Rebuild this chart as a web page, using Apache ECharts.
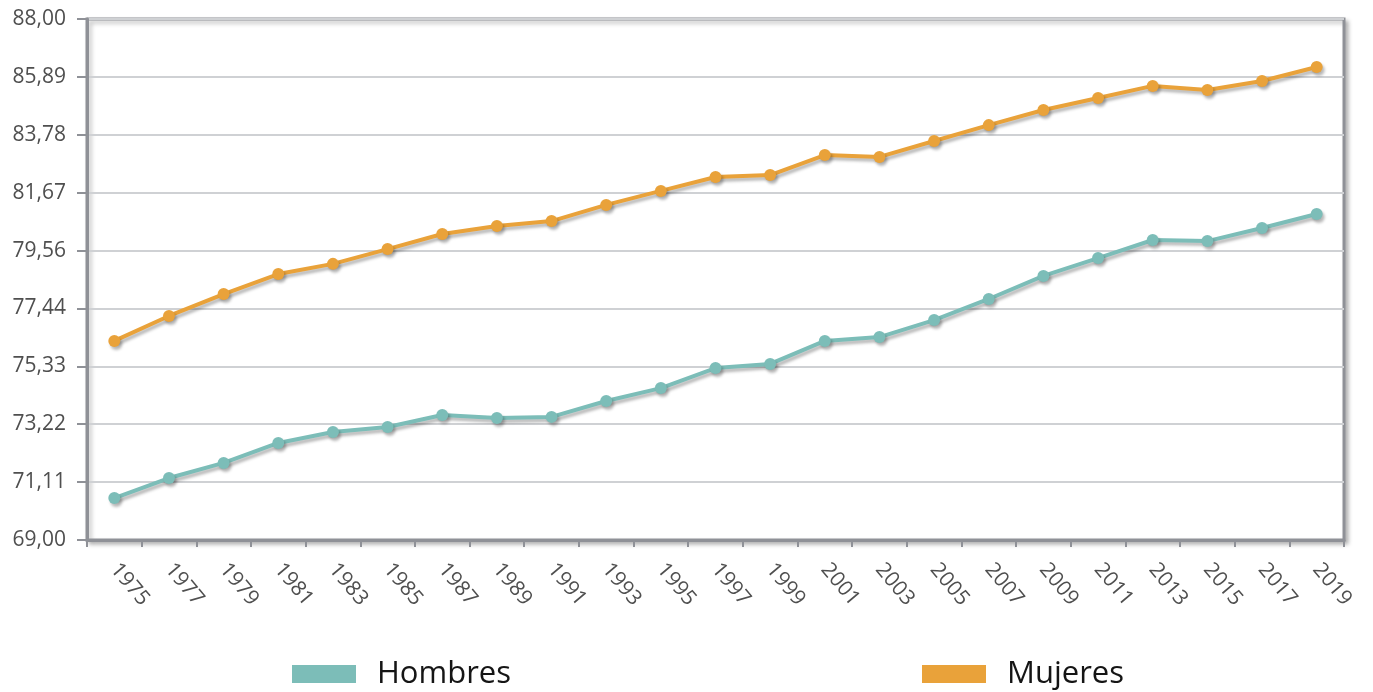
<!DOCTYPE html>
<html>
<head>
<meta charset="utf-8">
<script src="https://cdn.jsdelivr.net/npm/echarts@6/dist/echarts.min.js"></script>
<style>
  html, body { margin: 0; padding: 0; background: #fff; }
  #chart { width: 1373px; height: 692px; }
</style>
</head>
<body>
<div id="chart"></div>
<script>
// Esperanza de vida al nacer por sexo (años)
const years = ['1975','1977','1979','1981','1983','1985','1987','1989','1991','1993','1995','1997',
               '1999','2001','2003','2005','2007','2009','2011','2013','2015','2017','2019'];

const hombres = [70.53, 71.26, 71.81, 72.54, 72.94, 73.12, 73.56, 73.45, 73.49, 74.07, 74.54, 75.27,
                 75.42, 76.26, 76.40, 77.02, 77.79, 78.63, 79.28, 79.94, 79.90, 80.38, 80.89];

const mujeres = [76.26, 77.17, 77.97, 78.70, 79.07, 79.61, 80.16, 80.45, 80.63, 81.22, 81.73, 82.24,
                 82.31, 83.04, 82.97, 83.55, 84.13, 84.68, 85.12, 85.56, 85.41, 85.74, 86.25];

const yMin = 69;
const yMax = 88;
const yTickCount = 9;

const COLOR_H = '#7cbdb8';
const COLOR_M = '#e9a23a';
const AXIS_GREY = '#8f9197';
const FONT = '"Open Sans", "Noto Sans", sans-serif';

const chart = echarts.init(document.getElementById('chart'), null, { renderer: 'canvas' });

function lineSeries(name, data, color) {
  return {
    name: name,
    type: 'line',
    data: data,
    symbol: 'circle',
    symbolSize: 12,
    lineStyle: {
      color: color, width: 4,
      shadowColor: 'rgba(0,0,0,0.28)', shadowBlur: 3, shadowOffsetX: 2, shadowOffsetY: 3
    },
    itemStyle: {
      color: color,
      shadowColor: 'rgba(0,0,0,0.28)', shadowBlur: 3, shadowOffsetX: 2, shadowOffsetY: 3
    },
    emphasis: { disabled: true },
    z: 3
  };
}

const legendCommon = {
  icon: 'rect',
  itemWidth: 64,
  itemHeight: 18,
  top: 651,
  textStyle: { fontFamily: FONT, fontSize: 31, color: '#151515', lineHeight: 36, padding: [0, 0, 0, 16] },
  selectedMode: false
};

chart.setOption({
  animation: false,
  backgroundColor: '#ffffff',
  grid: {
    left: 87, right: 29, top: 19, bottom: 152,
    show: true,
    backgroundColor: '#ffffff',
    borderColor: AXIS_GREY,
    borderWidth: 3,
    shadowColor: 'rgba(0,0,0,0.25)',
    shadowBlur: 4,
    shadowOffsetX: 3,
    shadowOffsetY: 3
  },
  legend: [
    Object.assign({ left: 287, data: ['Hombres'] }, legendCommon),
    Object.assign({ left: 917, data: ['Mujeres'] }, legendCommon)
  ],
  xAxis: {
    type: 'category',
    data: years,
    boundaryGap: true,
    axisLine: { lineStyle: { color: AXIS_GREY, width: 3 } },
    axisTick: { show: true, length: 7, lineStyle: { color: AXIS_GREY, width: 2 } },
    axisLabel: {
      interval: 0,
      rotate: -50,
      margin: 26,
      fontFamily: FONT,
      fontSize: 21,
      color: '#4f4f4f'
    },
    splitLine: { show: false }
  },
  yAxis: {
    type: 'value',
    min: yMin,
    max: yMax,
    interval: (yMax - yMin) / yTickCount,
    axisLine: { show: true, lineStyle: { color: AXIS_GREY, width: 3 } },
    axisTick: { show: true, length: 10, lineStyle: { color: AXIS_GREY, width: 2 } },
    axisLabel: {
      margin: 21,
      fontFamily: FONT,
      fontSize: 21,
      color: '#4f4f4f',
      formatter: function (v) { return v.toFixed(2).replace('.', ','); }
    },
    splitLine: { lineStyle: { color: '#cfd1d4', width: 2 } }
  },
  series: [
    lineSeries('Hombres', hombres, COLOR_H),
    lineSeries('Mujeres', mujeres, COLOR_M)
  ]
});
</script>
</body>
</html>
